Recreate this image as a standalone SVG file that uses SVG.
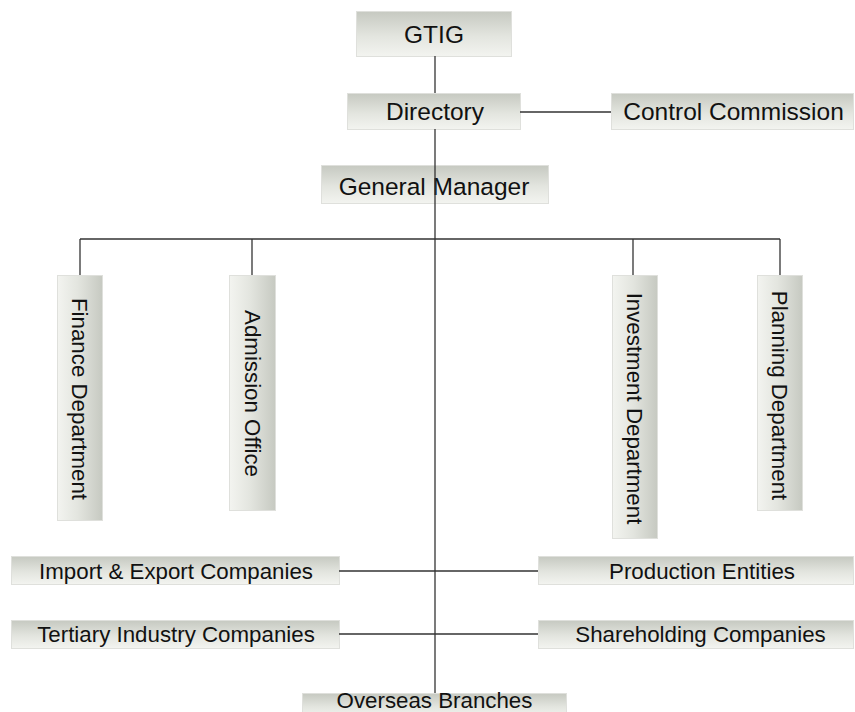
<svg xmlns="http://www.w3.org/2000/svg" width="855" height="712" viewBox="0 0 855 712">
  <defs>
    <!-- shaded fill for horizontal boxes: darker at the top -->
    <linearGradient id="gH" x1="0" y1="0" x2="0" y2="1">
      <stop offset="0" stop-color="#c6c9c1"/>
      <stop offset="0.55" stop-color="#e3e5df"/>
      <stop offset="1" stop-color="#f3f4f0"/>
    </linearGradient>
    <!-- shaded fill for vertical boxes: darker at the right -->
    <linearGradient id="gV" x1="0" y1="0" x2="1" y2="0">
      <stop offset="0" stop-color="#f3f4f0"/>
      <stop offset="0.45" stop-color="#e3e5df"/>
      <stop offset="1" stop-color="#c6c9c1"/>
    </linearGradient>
  </defs>
  <style>
    .bh { fill: url(#gH); stroke: #dfe0dc; stroke-width: 1; }
    .bv { fill: url(#gV); stroke: #dfe0dc; stroke-width: 1; }
    .t { font-family: "Liberation Sans", Arial, sans-serif; fill: #111; text-anchor: middle; }
    .lg { font-size: 24.5px; }
    .sm { font-size: 22.3px; }
    .ln { stroke: #333; stroke-width: 1.3; fill: none; }
  </style>

  <!-- boxes -->
  <g id="gtig">
    <rect class="bh" x="356.5" y="11.5" width="155" height="45"/>
    <text class="t lg" x="434" y="43">GTIG</text>
  </g>
  <g id="directory">
    <rect class="bh" x="347.5" y="93.5" width="173" height="36"/>
    <text class="t lg" x="435" y="120">Directory</text>
  </g>
  <g id="control-commission">
    <rect class="bh" x="611.5" y="93.5" width="242" height="36"/>
    <text class="t lg" x="733.5" y="120">Control Commission</text>
  </g>
  <g id="general-manager">
    <rect class="bh" x="321.5" y="165.5" width="227" height="38"/>
    <text class="t lg" x="434" y="195">General Manager</text>
  </g>
  <g id="finance-department">
    <rect class="bv" x="57.5" y="275.5" width="45" height="245"/>
    <text class="t sm" transform="translate(80 399) rotate(90)" y="8">Finance Department</text>
  </g>
  <g id="admission-office">
    <rect class="bv" x="229.5" y="275.5" width="46" height="235"/>
    <text class="t sm" transform="translate(252.5 393.5) rotate(90)" y="8">Admission Office</text>
  </g>
  <g id="investment-department">
    <rect class="bv" x="612.5" y="275.5" width="45" height="263"/>
    <text class="t sm" transform="translate(635 408.5) rotate(90)" y="8">Investment Department</text>
  </g>
  <g id="planning-department">
    <rect class="bv" x="757.5" y="275.5" width="45" height="235"/>
    <text class="t sm" transform="translate(780 395.5) rotate(90)" y="8">Planning Department</text>
  </g>
  <g id="import-export">
    <rect class="bh" x="11.5" y="556.5" width="328" height="28"/>
    <text class="t sm" x="176" y="579">Import &amp; Export Companies</text>
  </g>
  <g id="production-entities">
    <rect class="bh" x="538.5" y="556.5" width="315" height="28"/>
    <text class="t sm" x="702" y="579">Production Entities</text>
  </g>
  <g id="tertiary-industry">
    <rect class="bh" x="11.5" y="620.5" width="328" height="28"/>
    <text class="t sm" x="176" y="642">Tertiary Industry Companies</text>
  </g>
  <g id="shareholding">
    <rect class="bh" x="538.5" y="620.5" width="315" height="28"/>
    <text class="t sm" x="700.5" y="642">Shareholding Companies</text>
  </g>
  <g id="overseas-branches">
    <rect class="bh" x="302.5" y="693.5" width="264" height="24"/>
    <text class="t sm" x="434.5" y="707.5">Overseas Branches</text>
  </g>

  <!-- connectors -->
  <g id="connectors" class="ln">
    <line class="ln" x1="435" y1="56" x2="435" y2="93"/>
    <line class="ln" x1="435" y1="129" x2="435" y2="693"/>
    <line class="ln" x1="520" y1="112" x2="611" y2="112"/>
    <line class="ln" x1="80" y1="239" x2="780" y2="239"/>
    <line class="ln" x1="80" y1="239" x2="80" y2="275"/>
    <line class="ln" x1="252" y1="239" x2="252" y2="275"/>
    <line class="ln" x1="633" y1="239" x2="633" y2="275"/>
    <line class="ln" x1="780" y1="239" x2="780" y2="275"/>
    <line class="ln" x1="339" y1="571" x2="538" y2="571"/>
    <line class="ln" x1="339" y1="634" x2="538" y2="634"/>
  </g>
</svg>
